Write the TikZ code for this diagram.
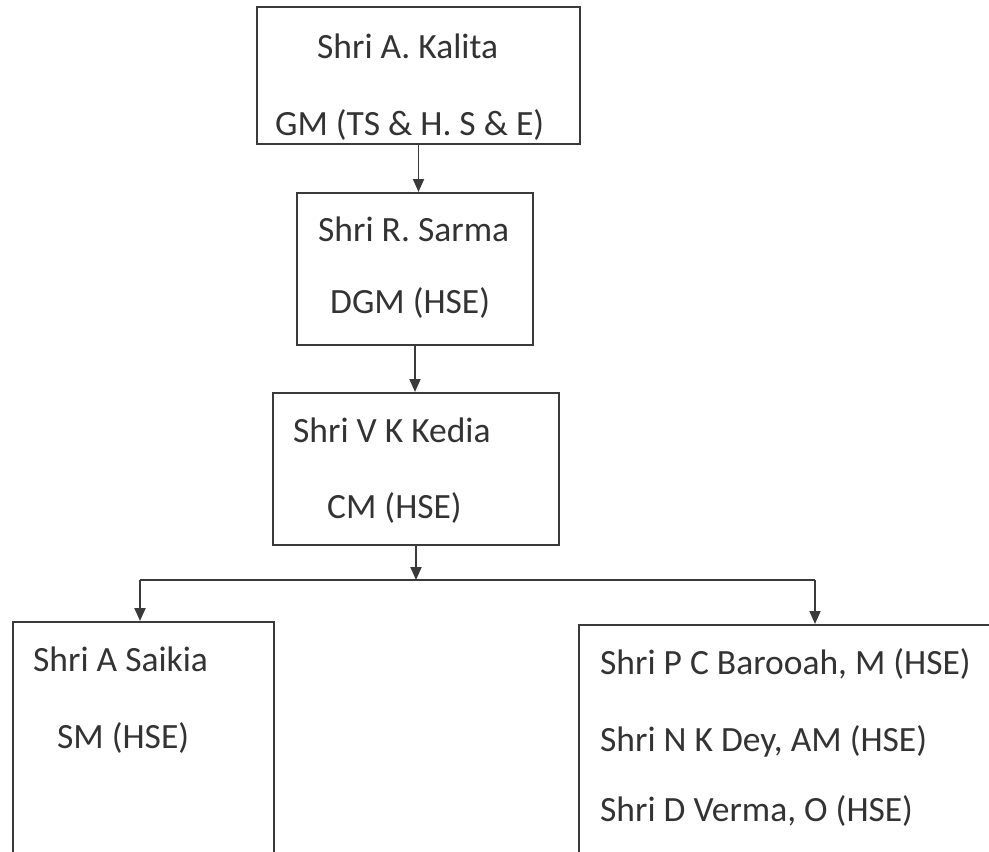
\documentclass[tikz,border=0pt]{standalone}
\usepackage{fontspec}
\setmainfont{Carlito}
\usetikzlibrary{arrows.meta}

\definecolor{ink}{HTML}{3A3A3A}
\definecolor{txt}{HTML}{333333}

\tikzset{
    orgbox/.style={draw=ink, line width=2pt, rectangle, inner sep=0pt},
    orgtext/.style={anchor=base west, inner sep=0pt, text=txt, font=\fontsize{35.5}{40}\selectfont},
    link/.style={draw=ink, line width=1.8pt, -{Triangle[length=13pt,width=11pt]}},
    bar/.style={draw=ink, line width=1.8pt}
}

\begin{document}
\begin{tikzpicture}[x=1pt,y=-1pt]

    % page frame
    \useasboundingbox (0,0) rectangle (989,852);
    \clip (0,0) rectangle (989,852);

    % let's define some key values
    \def\ybus{580}
    \def\xleftdrop{140}
    \def\xrightdrop{815}

    % Boxes
    \node[orgbox, minimum width=323, minimum height=137] (kalita) at (418.5,75.5) {};
    \node[orgbox, minimum width=236, minimum height=152] (sarma) at (415,269) {};
    \node[orgbox, minimum width=286, minimum height=152] (kedia) at (416,469) {};
    \node[orgbox, minimum width=261, minimum height=278] (saikia) at (143.5,761) {};
    \node[orgbox, minimum width=431, minimum height=275] (barooah) at (794.5,762.5) {};

    % texts
    \node[orgtext] (kalitaname) at (317,58) {Shri A. Kalita};
    \node[orgtext] (kalitapost) at (275,135) {GM (TS \& H. S \& E)};
    \node[orgtext] (sarmaname) at (318,241) {Shri R. Sarma};
    \node[orgtext] (sarmapost) at (330,313) {DGM (HSE)};
    \node[orgtext] (kedianame) at (293,442) {Shri V K Kedia};
    \node[orgtext] (kediapost) at (327,518) {CM (HSE)};
    \node[orgtext] (saikianame) at (33,671) {Shri A Saikia};
    \node[orgtext] (saikiapost) at (57,748) {SM (HSE)};
    \node[orgtext] (barooahname) at (600,674) {Shri P C Barooah, M (HSE)};
    \node[orgtext] (deyname) at (600,751) {Shri N K Dey, AM (HSE)};
    \node[orgtext] (vermaname) at (600,821) {Shri D Verma, O (HSE)};

    % bus
    \coordinate (bus) at (kedia.south |- 0,\ybus);
    \coordinate (busl) at (\xleftdrop,\ybus);
    \coordinate (busr) at (\xrightdrop,\ybus);

    % connectors
    \draw[link] (kalita.south) -- (kalita.south |- sarma.north);
    \draw[link] (sarma.south) -- (sarma.south |- kedia.north);
    \draw[link] (kedia.south) -- (bus);
    \draw[bar] (busl) -- (busr);
    \draw[link] (busl) -- (busl |- saikia.north);
    \draw[link] (busr) -- (busr |- barooah.north);

\end{tikzpicture}
\end{document}
